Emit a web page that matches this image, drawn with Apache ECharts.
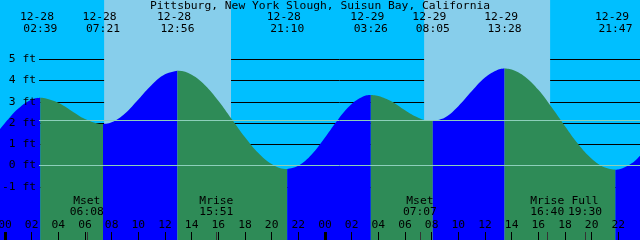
<!DOCTYPE html>
<html>
<head>
<meta charset="utf-8">
<script src="https://cdn.jsdelivr.net/npm/echarts@6/dist/echarts.min.js"></script>
<style>
html,body{margin:0;padding:0;background:#00BFFF;}
#chart{width:640px;height:240px;}
</style>
</head>
<body>
<div id="chart"></div>
<script>
// ---- data ----
const title = 'Pittsburg, New York Slough, Suisun Bay, California';
// tide height (ft), hours since 12-28 00:00
const tideHours = [-0.375, 0, 1, 2, 3, 4, 5, 6, 7, 8, 9, 10, 11, 12, 13, 14, 15, 16, 17, 18, 19, 20, 21,
  22, 23, 24, 25, 26, 27, 28, 29, 30, 31, 32, 33, 34, 35, 36, 37, 38, 39, 40, 41, 42, 43, 44, 45, 46, 47, 47.625];
const tideFeet = [1.71, 2.00, 2.68, 3.11, 3.17, 2.95, 2.57, 2.19, 1.97, 2.03, 2.45, 3.11, 3.79, 4.29, 4.46, 4.27, 3.78, 3.05, 2.19, 1.33, 0.59, 0.07, -0.16,
  -0.01, 0.52, 1.32, 2.18, 2.89, 3.28, 3.27, 3.01, 2.60, 2.25, 2.09, 2.26, 2.79, 3.49, 4.14, 4.52, 4.52, 4.18, 3.56, 2.74, 1.85, 1.00, 0.32, -0.10, -0.19, 0.10, 0.46];
const extremeTimes = ['12-28 02:39', '12-28 07:21', '12-28 12:56', '12-28 21:10', '12-29 03:26', '12-29 08:05', '12-29 13:28', '12-29 21:47'];
const extremeFeet = [3.19, 1.95, 4.46, -0.16, 3.32, 2.09, 4.57, -0.20];
const sunriseTimes = ['12-28 07:26', '12-29 07:26'];
const sunsetTimes = ['12-28 16:57', '12-29 16:53'];
const moonEvents = ['Mset', 'Mrise', 'Mset', 'Mrise', 'Full'];
const moonTimes = ['12-28 06:08', '12-28 15:51', '12-29 07:07', '12-29 16:40', '12-29 19:30'];
const hourTicks = [0, 2, 4, 6, 8, 10, 12, 14, 16, 18, 20, 22, 24, 26, 28, 30, 32, 34, 36, 38, 40, 42, 44, 46];
const dayTicks = [0, 24];
const feetTicks = [-1, 0, 1, 2, 3, 4, 5];
const meanLevel = 2.12;
const datumLevel = 0;

// ---- helpers ----
function toHours(s) {
  const [md, hm] = s.split(' ');
  const d = +md.split('-')[1];
  const [H, M] = hm.split(':').map(Number);
  return (d - 28) * 24 + H + M / 60;
}
const extremeHours = extremeTimes.map(toHours);
const moonHours = moonTimes.map(toHours);
function findIdx(arr, v) {
  for (let i = 0; i < arr.length; i++) if (Math.abs(arr[i] - v) < 1e-6) return i;
  return -1;
}
const FONT = 'DejaVu Sans Mono';
const FS = 11.3;
const X_MIN = -0.375, X_MAX = 47.625;

// all tide points, sorted by time
const allPts = tideHours.map((h, i) => [h, tideFeet[i]])
  .concat(extremeHours.map((h, i) => [h, extremeFeet[i]]))
  .sort((a, b) => a[0] - b[0]);

// split into rising / falling segments at extremes
const breaks = [X_MIN].concat(extremeHours, [X_MAX]);
const waterSeries = [];
for (let s = 0; s < breaks.length - 1; s++) {
  const a = breaks[s], b = breaks[s + 1];
  const pts = allPts.filter(p => p[0] >= a - 1e-9 && p[0] <= b + 1e-9);
  const rising = pts[pts.length - 1][1] > pts[0][1];
  waterSeries.push({
    type: 'line', xAxisIndex: 0, yAxisIndex: 0, data: pts,
    smooth: 0.4, showSymbol: false, silent: true, z: 2,
    lineStyle: { width: 0 },
    areaStyle: { color: rising ? '#0000FF' : '#2E8B57', opacity: 1, origin: 'start' }
  });
}

const noLine = { show: false, onZero: false };

const chart = echarts.init(document.getElementById('chart'), null, { renderer: 'canvas' });
chart.setOption({
  animation: false,
  backgroundColor: '#00BFFF',
  title: {
    text: title, left: 'center', top: 0, padding: 0,
    textStyle: { fontFamily: FONT, fontSize: FS, fontWeight: 'normal', color: '#000', lineHeight: 12 }
  },
  grid: [
    { left: 0, right: 0, top: 0, bottom: 0, outerBoundsMode: 'none', containLabel: false },
    { left: 39, right: 0, top: 59.25, bottom: 53.25, outerBoundsMode: 'none', containLabel: false }
  ],
  xAxis: [
    { // hour ticks
      type: 'value', gridIndex: 0, position: 'bottom', min: X_MIN, max: X_MAX, z: 10,
      axisLine: noLine, splitLine: { show: false },
      axisTick: { show: true, inside: true, length: 8, customValues: hourTicks, lineStyle: { color: '#000', width: 1 } },
      axisLabel: {
        show: true, inside: true, margin: 9, customValues: hourTicks,
        fontFamily: FONT, fontSize: FS, color: '#000',
        formatter: v => String(Math.round(v) % 24).padStart(2, '0')
      }
    },
    { // midnight ticks
      type: 'value', gridIndex: 0, position: 'bottom', min: X_MIN, max: X_MAX, z: 10,
      axisLine: noLine, splitLine: { show: false }, axisLabel: { show: false },
      axisTick: { show: true, inside: true, length: 8, customValues: dayTicks, lineStyle: { color: '#000', width: 3 } }
    },
    { // moon events
      type: 'value', gridIndex: 0, position: 'bottom', min: X_MIN, max: X_MAX, z: 10,
      axisLine: noLine, splitLine: { show: false },
      axisTick: { show: true, inside: true, length: 8, customValues: moonHours, lineStyle: { color: '#333', width: 1 } },
      axisLabel: {
        show: true, inside: true, margin: 22, customValues: moonHours,
        fontFamily: FONT, fontSize: FS, color: '#000', lineHeight: 11, align: 'center',
        formatter: v => { const i = findIdx(moonHours, v); return moonEvents[i] + '\n' + moonTimes[i].split(' ')[1]; }
      }
    },
    { // extreme times at top
      type: 'value', gridIndex: 0, position: 'top', min: X_MIN, max: X_MAX, z: 10,
      axisLine: noLine, splitLine: { show: false }, axisTick: { show: false },
      axisLabel: {
        show: true, inside: true, margin: 11, customValues: extremeHours,
        fontFamily: FONT, fontSize: FS, color: '#000', lineHeight: 12, align: 'center',
        formatter: v => { const i = findIdx(extremeHours, v); const p = extremeTimes[i].split(' '); return p[0] + ' \n' + p[1]; }
      }
    },
    { type: 'value', gridIndex: 1, min: 0, max: 1, show: false, axisLine: noLine }
  ],
  yAxis: [
    { type: 'value', gridIndex: 0, min: -3.506, max: 7.788, show: false, axisLine: noLine },
    { // grid lines behind water
      type: 'value', gridIndex: 1, position: 'left', offset: 0, min: -1, max: 5, interval: 1, z: 1,
      axisLine: noLine, axisTick: { show: false }, axisLabel: { show: false },
      splitLine: { show: true, lineStyle: { color: '#000', width: 1 } }
    },
    { // labels on top
      type: 'value', gridIndex: 1, position: 'left', offset: 0, min: -1, max: 5, interval: 1, z: 10,
      axisLine: noLine, axisTick: { show: false }, splitLine: { show: false },
      axisLabel: {
        show: true, margin: 3, customValues: feetTicks,
        fontFamily: FONT, fontSize: FS, color: '#000',
        formatter: v => v + ' ft'
      }
    }
  ],
  series: [
    { // daylight
      type: 'line', xAxisIndex: 0, yAxisIndex: 0, data: [], z: 0, silent: true,
      markArea: {
        silent: true, itemStyle: { color: '#87CEEB' },
        data: sunriseTimes.map((r, i) => [{ xAxis: toHours(r) }, { xAxis: toHours(sunsetTimes[i]) }])
      }
    },
    ...waterSeries,
    { // datum and mean level lines
      type: 'line', xAxisIndex: 4, yAxisIndex: 1, data: [], z: 3, silent: true,
      markLine: {
        silent: true, symbol: 'none', label: { show: false },
        lineStyle: { color: '#8CCFBA', width: 1, type: 'solid' },
        data: [{ yAxis: datumLevel }, { yAxis: meanLevel }]
      }
    }
  ]
});
</script>
</body>
</html>
